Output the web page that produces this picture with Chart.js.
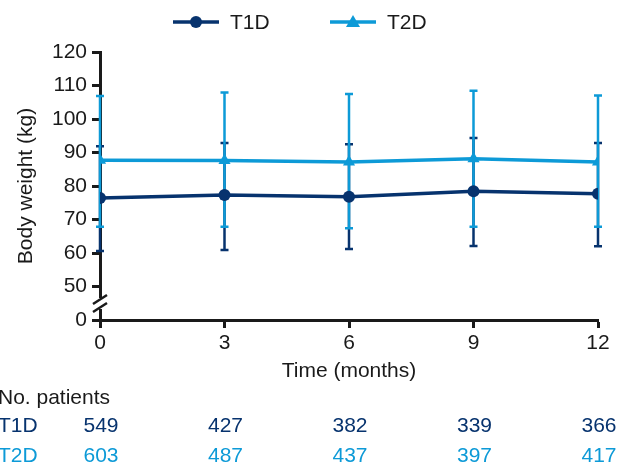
<!DOCTYPE html>
<html>
<head>
<meta charset="utf-8">
<script src="https://cdn.jsdelivr.net/npm/chart.js@4"></script>
<style>
  html, body { margin: 0; padding: 0; background: #fff; }
  #wrap { width: 628px; height: 464px; }
</style>
</head>
<body>
<div id="wrap"><canvas id="bwChart" width="628" height="464"></canvas></div>
<script>
// Body weight over time, T1D vs T2D (mean with SD bars)
const months = [0, 3, 6, 9, 12];
const t1dMean = [76.4, 77.3, 76.8, 78.4, 77.7];
const t1dUpper = [91.9, 92.8, 92.5, 94.3, 92.8];
const t1dLower = [60.6, 60.9, 61.2, 62.1, 62.0];
const t2dMean = [87.7, 87.6, 87.2, 88.1, 87.2];
const t2dUpper = [106.9, 107.9, 107.5, 108.4, 107.0];
const t2dLower = [67.8, 67.8, 67.4, 67.8, 67.8];
const t1dPatients = [549, 427, 382, 339, 366];
const t2dPatients = [603, 487, 437, 397, 417];
const yTicks = [40, 50, 60, 70, 80, 90, 100, 110, 120]; // 40 is shown as "0" (broken axis)

const NAVY = "#07336e";
const SKY = "#0d9ad7";
const FONT = "'Liberation Sans', Arial, sans-serif";
const FS = 21;

const errorBars = {
  id: "errorBars",
  beforeDatasetsDraw(chart) {
    const { ctx, scales: { x, y } } = chart;
    const sets = [
      { lo: t1dLower, hi: t1dUpper, color: NAVY },
      { lo: t2dLower, hi: t2dUpper, color: SKY },
    ];
    ctx.save();
    ctx.lineWidth = 2.5;
    sets.forEach((s) => {
      ctx.strokeStyle = s.color;
      months.forEach((m, i) => {
        const px = x.getPixelForValue(m);
        const top = y.getPixelForValue(s.hi[i]);
        const bot = y.getPixelForValue(s.lo[i]);
        ctx.beginPath();
        ctx.moveTo(px, top); ctx.lineTo(px, bot);
        ctx.moveTo(px - 4, top); ctx.lineTo(px + 4, top);
        ctx.moveTo(px - 4, bot); ctx.lineTo(px + 4, bot);
        ctx.stroke();
      });
    });
    ctx.restore();
  },
};

const extras = {
  id: "extras",
  afterDraw(chart) {
    const { ctx, scales: { x, y } } = chart;
    ctx.save();
    // axis break
    const ax = x.getPixelForValue(0);
    ctx.fillStyle = "#fff";
    ctx.fillRect(ax - 3, 298, 6, 11);
    ctx.strokeStyle = "#1a1a1a";
    ctx.lineWidth = 2.5;
    ctx.beginPath();
    ctx.moveTo(ax - 7, 304); ctx.lineTo(ax + 7, 295);
    ctx.moveTo(ax - 7, 312); ctx.lineTo(ax + 7, 303);
    ctx.stroke();

    // legend
    const items = [
      { label: "T1D", color: NAVY, style: "circle", x0: 173 },
      { label: "T2D", color: SKY, style: "triangle", x0: 330 },
    ];
    ctx.font = FS + "px " + FONT;
    ctx.textBaseline = "middle";
    items.forEach((it) => {
      const ly = 22;
      ctx.strokeStyle = it.color;
      ctx.fillStyle = it.color;
      ctx.lineWidth = 3.5;
      ctx.beginPath();
      ctx.moveTo(it.x0, ly); ctx.lineTo(it.x0 + 46, ly);
      ctx.stroke();
      const cx = it.x0 + 23;
      ctx.beginPath();
      if (it.style === "circle") {
        ctx.arc(cx, ly, 6, 0, Math.PI * 2);
      } else {
        ctx.moveTo(cx, ly - 7); ctx.lineTo(cx + 7, ly + 5); ctx.lineTo(cx - 7, ly + 5); ctx.closePath();
      }
      ctx.fill();
      ctx.fillStyle = "#1a1a1a";
      ctx.textAlign = "left";
      ctx.fillText(it.label, it.x0 + 57, ly + 1);
    });

    // number of patients table
    ctx.fillStyle = "#1a1a1a";
    ctx.textAlign = "left";
    ctx.fillText("No. patients", -2, 398);
    const rows = [
      { label: "T1D", vals: t1dPatients, color: NAVY, ry: 426 },
      { label: "T2D", vals: t2dPatients, color: SKY, ry: 456 },
    ];
    rows.forEach((r) => {
      ctx.fillStyle = r.color;
      ctx.textAlign = "left";
      ctx.fillText(r.label, -2, r.ry);
      ctx.textAlign = "center";
      r.vals.forEach((v, i) => {
        ctx.fillText(String(v), x.getPixelForValue(months[i]) + 1, r.ry);
      });
    });
    ctx.restore();
  },
};

const ctx = document.getElementById("bwChart");
new Chart(ctx, {
  type: "line",
  data: {
    datasets: [
      {
        label: "T2D",
        data: months.map((m, i) => ({ x: m, y: t2dMean[i] })),
        borderColor: SKY,
        backgroundColor: SKY,
        borderWidth: 3.5,
        pointStyle: "triangle",
        pointRadius: 7,
        pointBorderWidth: 0,
        tension: 0,
        order: 2,
      },
      {
        label: "T1D",
        data: months.map((m, i) => ({ x: m, y: t1dMean[i] })),
        borderColor: NAVY,
        backgroundColor: NAVY,
        borderWidth: 3.5,
        pointStyle: "circle",
        pointRadius: 6,
        pointBorderWidth: 0,
        tension: 0,
        order: 1,
      },
    ],
  },
  options: {
    responsive: false,
    animation: false,
    layout: { padding: { top: 52, left: 0, right: 30, bottom: 80 } },
    plugins: { legend: { display: false }, tooltip: { enabled: false } },
    scales: {
      x: {
        type: "linear",
        min: 0,
        max: 12,
        afterBuildTicks: (s) => { s.ticks = months.map((v) => ({ value: v })); },
        afterFit: (s) => { s.height = 64; },
        ticks: { color: "#1a1a1a", font: { size: FS, family: FONT }, padding: 3, maxRotation: 0 },
        grid: { drawOnChartArea: false, tickLength: 8, tickWidth: 3, tickColor: "#1a1a1a" },
        border: { color: "#1a1a1a", width: 3 },
        title: { display: true, text: "Time (months)", color: "#1a1a1a", font: { size: FS, family: FONT }, padding: { top: 0, bottom: 0 } },
      },
      y: {
        min: 40,
        max: 120,
        afterBuildTicks: (s) => { s.ticks = yTicks.map((v) => ({ value: v })); },
        afterFit: (s) => { s.width = 100; },
        ticks: {
          color: "#1a1a1a",
          font: { size: FS, family: FONT },
          padding: 5,
          callback: (v) => (v === 40 ? "0" : v),
        },
        grid: { drawOnChartArea: false, tickLength: 8, tickWidth: 3, tickColor: "#1a1a1a" },
        border: { color: "#1a1a1a", width: 3 },
        title: { display: true, text: "Body weight (kg)", color: "#1a1a1a", font: { size: FS, family: FONT }, padding: { top: 14, bottom: 0 } },
      },
    },
  },
  plugins: [errorBars, extras],
});
</script>
</body>
</html>
